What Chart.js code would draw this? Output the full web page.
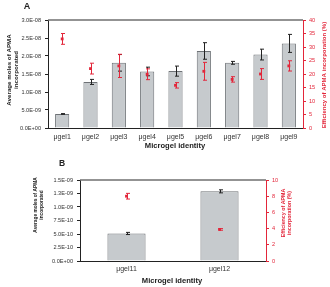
<!DOCTYPE html>
<html>
<head>
<meta charset="utf-8">
<script src="https://cdn.jsdelivr.net/npm/chart.js@4"></script>
<style>
  body { margin: 0; background: #fff; }
  #wrap { position: relative; width: 330px; height: 287px; }
  canvas { position: absolute; left: 0; }
</style>
</head>
<body>
<div id="wrap">
  <canvas id="chartA" width="330" height="150" style="top:0"></canvas>
  <canvas id="chartB" width="330" height="137" style="top:150px"></canvas>
</div>
<script>
// panel A data
const categoriesA = ['μgel1', 'μgel2', 'μgel3', 'μgel4', 'μgel5', 'μgel6', 'μgel7', 'μgel8', 'μgel9'];
const molesA = [3.9e-9, 1.28e-8, 1.81e-8, 1.57e-8, 1.58e-8, 2.14e-8, 1.81e-8, 2.04e-8, 2.35e-8];
const molesErrA = [0.1e-9, 0.7e-9, 2.3e-9, 1.2e-9, 1.4e-9, 2.3e-9, 0.4e-9, 1.5e-9, 2.5e-9];
const effA = [33, 22, 23, 19.9, 15.8, 21, 18, 20, 23];
const effErrA = [2, 2, 4.3, 2, 1, 3.3, 1, 2, 1.9];
const tickValuesA = [0, 5e-9, 1e-8, 1.5e-8, 2e-8, 2.5e-8, 3e-8];
const tickLabelsA = ['0.0E+00', '5.0E-09', '1.0E-08', '1.5E-08', '2.0E-08', '2.5E-08', '3.0E-08'];

// panel B data
const categoriesB = ['μgel11', 'μgel12'];
const molesB = [5.1e-10, 1.29e-9];
const molesErrB = [0.2e-10, 0.28e-10];
const effB = [8.0, 3.9];
const effErrB = [0.35, 0.1];
const tickValuesB = [0, 2.5e-10, 5e-10, 7.5e-10, 1e-9, 1.25e-9, 1.5e-9];
const tickLabelsB = ['0.0E+00', '2.5E-10', '5.0E-10', '7.5E-10', '1.0E-09', '1.3E-09', '1.5E-09'];

const RED = '#e3263a';
const DARK = '#222';
const FONT = '"Liberation Sans", Arial, sans-serif';
Chart.defaults.font.family = FONT;
Chart.defaults.color = DARK;

// draws error bars right after the dataset they belong to
const errorBars = {
  id: 'errorBars',
  afterDatasetDraw(chart, args) {
    const ds = chart.data.datasets[args.index];
    if (!ds.errors) return;
    const meta = args.meta;
    const yScale = chart.scales[meta.yAxisID];
    const ctx = chart.ctx;
    ctx.save();
    ctx.strokeStyle = ds.errorColor;
    ctx.lineWidth = 1;
    meta.data.forEach((el, j) => {
      const x = Math.round(el.x) + 0.5;
      const hi = yScale.getPixelForValue(ds.data[j] + ds.errors[j]);
      const lo = yScale.getPixelForValue(ds.data[j] - ds.errors[j]);
      ctx.beginPath();
      ctx.moveTo(x, hi); ctx.lineTo(x, lo);
      ctx.moveTo(x - 1.5, hi); ctx.lineTo(x + 2.5, hi);
      ctx.moveTo(x - 1.5, lo); ctx.lineTo(x + 2.5, lo);
      ctx.stroke();
    });
    ctx.restore();
  }
};

// top frame line + free text (panel letters, axis titles)
function textPlugin(items) {
  return {
    id: 'texts',
    afterDraw(chart) {
      const ctx = chart.ctx;
      const a = chart.chartArea;
      ctx.save();
      ctx.strokeStyle = '#6f6f6f';
      ctx.lineWidth = 1.5;
      ctx.beginPath();
      ctx.moveTo(a.left, a.top);
      ctx.lineTo(a.right, a.top);
      ctx.stroke();
      items.forEach(t => {
        ctx.save();
        ctx.translate(t.x, t.y);
        if (t.rot) ctx.rotate(t.rot);
        ctx.font = 'bold ' + t.size + 'px ' + FONT;
        ctx.fillStyle = t.color || DARK;
        ctx.textAlign = 'center';
        ctx.textBaseline = 'middle';
        ctx.fillText(t.text, 0, 0);
        ctx.restore();
      });
      ctx.restore();
    }
  };
}

function makeChart(id, cfg) {
  return new Chart(document.getElementById(id), {
    data: {
      labels: cfg.labels,
      datasets: [
        {
          type: 'bar',
          data: cfg.moles,
          errors: cfg.molesErr,
          errorColor: DARK,
          yAxisID: 'y',
          order: 1,
          backgroundColor: '#c6cacd',
          borderColor: '#6e7276',
          borderWidth: 1,
          categoryPercentage: 1,
          barPercentage: cfg.barPct
        },
        {
          type: 'line',
          data: cfg.eff,
          errors: cfg.effErr,
          errorColor: RED,
          yAxisID: 'y1',
          order: 0,
          showLine: false,
          pointStyle: 'rect',
          pointRadius: 2,
          backgroundColor: RED,
          borderColor: RED,
          borderWidth: 0
        }
      ]
    },
    options: {
      responsive: false,
      animation: false,
      devicePixelRatio: 1,
      layout: { padding: { top: cfg.top, left: 0, right: 0, bottom: 0 } },
      plugins: { legend: { display: false }, tooltip: { enabled: false } },
      scales: {
        x: {
          grid: { display: false, drawTicks: false, tickLength: 0 },
          border: { color: DARK, width: 1 },
          ticks: { color: '#333', font: { size: 7 }, padding: cfg.xPad, maxRotation: 0, autoSkip: false },
          afterFit: s => { s.height = cfg.xHeight; }
        },
        y: {
          position: 'left',
          min: 0,
          max: cfg.tickValues[cfg.tickValues.length - 1],
          afterBuildTicks: s => { s.ticks = cfg.tickValues.map(v => ({ value: v })); },
          ticks: { callback: (v, i) => cfg.tickLabels[i], color: '#333', font: { size: 5.6 }, padding: 4 },
          grid: { drawOnChartArea: false, tickLength: 3, color: DARK },
          border: { color: DARK, width: 1 },
          afterFit: s => { s.width = cfg.leftW; }
        },
        y1: {
          position: 'right',
          min: 0,
          max: cfg.effMax,
          ticks: { stepSize: cfg.effStep, color: RED, font: { size: 5.6 }, padding: 3 },
          grid: { drawOnChartArea: false, tickLength: 3, color: RED },
          border: { color: RED, width: 1 },
          afterFit: s => { s.width = cfg.rightW; }
        }
      }
    },
    plugins: [errorBars, textPlugin(cfg.texts)]
  });
}

makeChart('chartA', {
  labels: categoriesA, moles: molesA, molesErr: molesErrA, eff: effA, effErr: effErrA,
  tickValues: tickValuesA, tickLabels: tickLabelsA, effMax: 40, effStep: 5,
  barPct: 0.5, top: 20, leftW: 48, rightW: 27, xHeight: 22, xPad: 5,
  texts: [
    { text: 'A', x: 27, y: 7, size: 9 },
    { text: 'Average moles of APMA', x: 9, y: 70, size: 6.2, rot: -Math.PI / 2 },
    { text: 'incorporated', x: 16, y: 70, size: 6.2, rot: -Math.PI / 2 },
    { text: 'Efficiency of APMA incorporation (%)', x: 324, y: 75, size: 6, rot: -Math.PI / 2, color: RED },
    { text: 'Microgel identity', x: 175, y: 146, size: 7.6 }
  ]
});

makeChart('chartB', {
  labels: categoriesB, moles: molesB, molesErr: molesErrB, eff: effB, effErr: effErrB,
  tickValues: tickValuesB, tickLabels: tickLabelsB, effMax: 10, effStep: 2,
  barPct: 0.41, top: 30, leftW: 80, rightW: 64, xHeight: 26, xPad: 4,
  texts: [
    { text: 'B', x: 62, y: 14, size: 8.5 },
    { text: 'Average moles of APMA', x: 36, y: 55, size: 4.8, rot: -Math.PI / 2 },
    { text: 'incorporated', x: 41.5, y: 55, size: 4.8, rot: -Math.PI / 2 },
    { text: 'Efficiency of APMA', x: 284, y: 63, size: 5.3, rot: -Math.PI / 2, color: RED },
    { text: 'incorporation (%)', x: 290, y: 63, size: 5.3, rot: -Math.PI / 2, color: RED },
    { text: 'Microgel identity', x: 172, y: 131, size: 7.6 }
  ]
});
</script>
</body>
</html>
